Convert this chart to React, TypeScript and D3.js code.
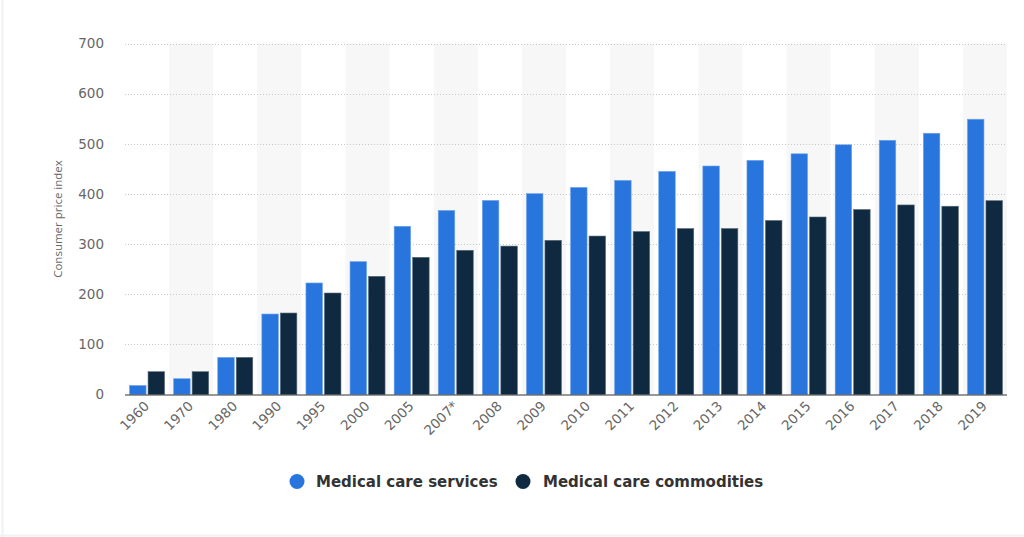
import React from "react";
import * as d3 from "d3";

const categories = ["1960","1970","1980","1990","1995","2000","2005","2007*","2008","2009","2010","2011","2012","2013","2014","2015","2016","2017","2018","2019"];
const services = [18, 31.5, 74, 160.5, 222.4, 265, 335.5, 367, 387, 400.5, 413, 427, 445, 455.7, 467, 480, 498, 507, 521, 549];
const commodities = [45.5, 45.5, 74, 162.5, 202.4, 235.7, 273.6, 287.6, 296, 307.5, 316, 325, 331, 331, 347, 354, 369, 378, 375.5, 386.5];
const yTicks = [0, 100, 200, 300, 400, 500, 600, 700];
const seriesNames = ["Medical care services", "Medical care commodities"];
const colors = ["#2876dd", "#0f2a40"];

export default function App() {
  const W = 1024, H = 537;
  const left = 125, right = 1007, top = 43.5, bottom = 394.5;
  const x = d3.scaleBand<string>().domain(categories).range([left, right]).paddingInner(0).paddingOuter(0);
  const inner = d3.scaleBand<string>().domain(["s", "c"]).range([0, x.bandwidth()]).paddingInner(0.108).paddingOuter(0.246);
  const y = d3.scaleLinear().domain([0, 700]).range([bottom, top]);
  const series = [services, commodities];
  const keys = ["s", "c"];
  const font = "'DejaVu Sans', Verdana, sans-serif";
  return (
    <svg width={W} height={H} style={{ position: "absolute", left: 0, top: 0, background: "#fff" }}
      fontFamily={font}>
      <rect x={0} y={0} width={W} height={H} fill="#fff" />
      <line x1={2.5} y1={0} x2={2.5} y2={H} stroke="#eef1f3" strokeWidth={2} />
      <line x1={0} y1={535.5} x2={W} y2={535.5} stroke="#f0f2f4" strokeWidth={2} />
      {categories.map((c, i) => i % 2 === 1 ? (
        <rect key={"sh" + c} x={x(c)} y={top} width={x.bandwidth()} height={bottom - top} fill="#f7f7f7" />
      ) : null)}
      {yTicks.filter(t => t > 0).map(t => (
        <line key={"g" + t} x1={left} x2={right} y1={Math.round(y(t)) + 0.5} y2={Math.round(y(t)) + 0.5}
          stroke="#c8c8c8" strokeDasharray="1,2" />
      ))}
      {yTicks.map(t => (
        <text key={"yt" + t} x={104} y={y(t)} dy="0.35em" textAnchor="end" fontSize={13.5} fill="#666">{t}</text>
      ))}
      <text transform={`translate(61.5,219) rotate(-90)`} textAnchor="middle" fontSize={11.5} fill="#666"
        fontFamily="'Open Sans', sans-serif">Consumer price index</text>
      {categories.map((c, i) => (
        <g key={"b" + c}>
          {series.map((s, k) => (
            <rect key={k} x={(x(c) as number) + (inner(keys[k]) as number)} y={y(s[i])}
              width={inner.bandwidth()} height={bottom - y(s[i])} fill={colors[k]}
              stroke={k === 0 ? "#6fa3ea" : "#5a6b78"} strokeWidth={0.6} />
          ))}
        </g>
      ))}
      <line x1={left} x2={right} y1={bottom + 0.5} y2={bottom + 0.5} stroke="#333" strokeWidth={1.2} />
      {categories.map(c => {
        const cx = (x(c) as number) + x.bandwidth() / 2 + 3;
        return (
          <text key={"xl" + c} transform={`translate(${cx},407) rotate(-45)`} textAnchor="end"
            fontSize={13.5} fill="#666">{c}</text>
        );
      })}
      <g>
        <circle cx={297} cy={481.5} r={7.5} fill={colors[0]} />
        <text x={316} y={481.5} dy="0.35em" fontSize={15} fontWeight="bold" fill="#333">{seriesNames[0]}</text>
        <circle cx={523} cy={481.5} r={7.5} fill={colors[1]} />
        <text x={543} y={481.5} dy="0.35em" fontSize={15} fontWeight="bold" fill="#333">{seriesNames[1]}</text>
      </g>
    </svg>
  );
}
